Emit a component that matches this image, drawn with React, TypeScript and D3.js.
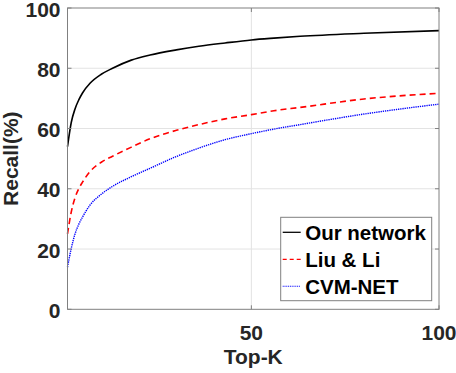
import React from "react";
import * as d3 from "d3";

const topK = [1, 2, 3, 4, 5, 7, 10, 13, 18, 23, 30, 36, 43, 50, 56, 63, 80, 100];
const ourNetwork = [54, 62, 66.5, 69.5, 71.8, 75, 78, 80, 82.7, 84.4, 86.1, 87.3, 88.4, 89.4, 90, 90.6, 91.6, 92.5];
const liuLi = [25, 32.3, 37, 40, 42.2, 45.7, 48.8, 50.8, 53.8, 56.6, 59.4, 61.3, 63.2, 64.6, 65.9, 67, 69.8, 71.7];
const cvmNet = [14, 20.2, 25, 28.2, 30.6, 34.6, 38.2, 40.8, 44, 46.8, 50.7, 53.5, 56.3, 58.3, 59.8, 61.3, 64.8, 68.1];

const xTicks = [50, 100];
const yTicks = [0, 20, 40, 60, 80, 100];
const seriesNames = ["Our network", "Liu & Li", "CVM-NET"];
const xLabel = "Top-K";
const yLabel = "Recall(%)";

export default function App() {
  const W = 456, H = 373;
  const L = 67.5, R = 439, T = 8, B = 309.3;
  const x = d3.scaleLinear().domain([1, 100]).range([L, R]);
  const y = d3.scaleLinear().domain([0, 100]).range([B, T]);
  const line = d3
    .line<number>()
    .x((_, i) => x(topK[i]))
    .y((d) => y(d))
    .curve(d3.curveMonotoneX);

  const series = [
    { name: seriesNames[0], values: ourNetwork, color: "#000000", dash: "none", legDash: "none", width: 1.6 },
    { name: seriesNames[1], values: liuLi, color: "#ff0000", dash: "6,4", legDash: "4,3", width: 1.6 },
    { name: seriesNames[2], values: cvmNet, color: "#0000ff", dash: "1.3,0.9", legDash: "1,0.8", width: 1.4 },
  ];

  const font = "'Liberation Sans', Arial, sans-serif";
  const axisColor = "#808080";
  const gridColor = "#e3e3e3";
  const tickLen = 4;

  const legX = 280.7, legY = 217.3, legW = 151, legH = 83.4;

  return (
    <svg
      width={W}
      height={H}
      style={{ display: "block", background: "#fff", position: "absolute", left: 0, top: 0 }}
    >
      {yTicks.filter((t) => t !== 0 && t !== 100).map((t) => (
        <line key={"gy" + t} x1={L} x2={R} y1={y(t)} y2={y(t)} stroke={gridColor} strokeWidth={1} />
      ))}
      {xTicks.filter((t) => t !== 100).map((t) => (
        <line key={"gx" + t} x1={x(t)} x2={x(t)} y1={T} y2={B} stroke={gridColor} strokeWidth={1} />
      ))}

      {series.map((s) => (
        <path
          key={s.name}
          d={line(s.values) || ""}
          fill="none"
          stroke={s.color}
          strokeWidth={s.width}
          strokeDasharray={s.dash}
        />
      ))}

      <rect x={L} y={T} width={R - L} height={B - T} fill="none" stroke={axisColor} strokeWidth={1} />

      {yTicks.map((t) => (
        <g key={"ty" + t}>
          <line x1={L} x2={L + tickLen} y1={y(t)} y2={y(t)} stroke={axisColor} />
          <line x1={R} x2={R - tickLen} y1={y(t)} y2={y(t)} stroke={axisColor} />
          <text
            x={L - 7}
            y={y(t) + 8.6}
            textAnchor="end"
            fontFamily={font}
            fontWeight="bold"
            fontSize={21}
            fill="#262626"
          >
            {t}
          </text>
        </g>
      ))}
      {xTicks.map((t) => (
        <g key={"tx" + t}>
          <line x1={x(t)} x2={x(t)} y1={B} y2={B - tickLen} stroke={axisColor} />
          <line x1={x(t)} x2={x(t)} y1={T} y2={T + tickLen} stroke={axisColor} />
          <text
            x={x(t)}
            y={340}
            textAnchor="middle"
            fontFamily={font}
            fontWeight="bold"
            fontSize={21}
            fill="#262626"
          >
            {t}
          </text>
        </g>
      ))}

      <text
        x={(L + R) / 2}
        y={364}
        textAnchor="middle"
        fontFamily={font}
        fontWeight="bold"
        fontSize={21}
        fill="#262626"
      >
        {xLabel}
      </text>
      <text
        transform={`translate(18,${(T + B) / 2}) rotate(-90)`}
        textAnchor="middle"
        fontFamily={font}
        fontWeight="bold"
        fontSize={21}
        fill="#262626"
      >
        {yLabel}
      </text>

      <rect x={legX} y={legY} width={legW} height={legH} fill="#fff" stroke={axisColor} strokeWidth={1} />
      {series.map((s, i) => {
        const cy = legY + 15 + i * 27;
        return (
          <g key={"leg" + s.name}>
            <line
              x1={legX + 2}
              x2={legX + 20}
              y1={cy}
              y2={cy}
              stroke={s.color}
              strokeWidth={s.width * 0.8}
              strokeDasharray={s.legDash}
            />
            <text
              x={legX + 24.5}
              y={cy + 7.4}
              fontFamily={font}
              fontWeight="bold"
              fontSize={20.5}
              fill="#000"
            >
              {s.name}
            </text>
          </g>
        );
      })}
    </svg>
  );
}
